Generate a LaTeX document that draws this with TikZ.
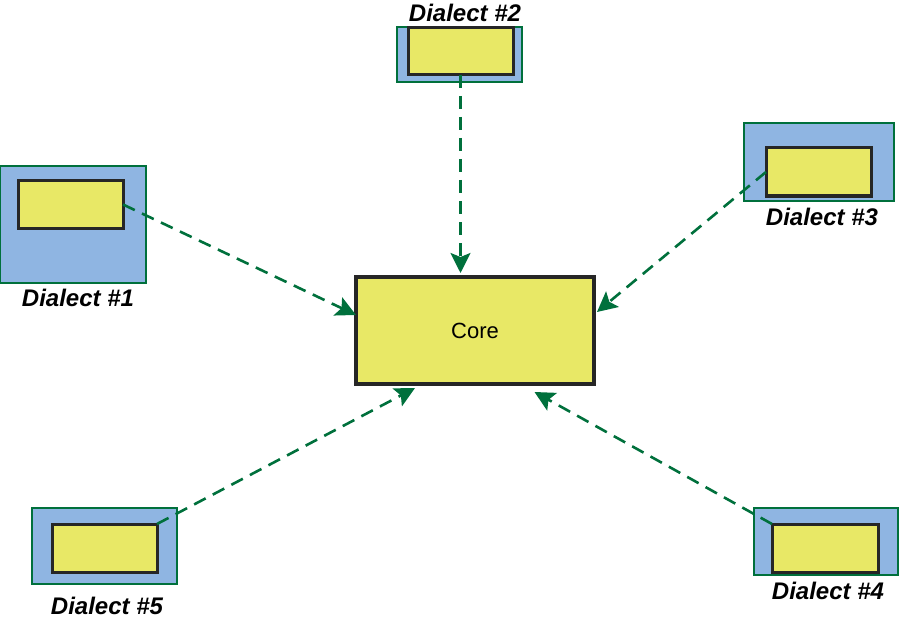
\documentclass[tikz,border=0pt]{standalone}
\usepackage{fontspec}
\setmainfont{Liberation Sans}
\usetikzlibrary{arrows.meta,calc}
\definecolor{dblue}{RGB}{143,181,226}
\definecolor{dyellow}{RGB}{232,232,102}
\definecolor{dgreen}{RGB}{0,112,60}
\begin{document}
\begin{tikzpicture}[x=1pt,y=-1pt,
  bluebox/.style={draw=dgreen,fill=dblue,line width=2.6pt,anchor=north west,inner sep=0pt,outer sep=0pt},
  yelbox/.style={draw=black!85,fill=dyellow,line width=3pt,anchor=north west,inner sep=0pt,outer sep=0pt},
  corebox/.style={draw=black!85,fill=dyellow,line width=3.5pt,anchor=north west,inner sep=0pt,outer sep=0pt,font=\fontsize{22}{26}\selectfont},
  dlabel/.style={font=\fontsize{24}{28}\selectfont\bfseries\itshape,inner sep=0pt},
  conn/.style={draw=dgreen,line width=2.6pt,dash pattern=on 13pt off 8pt,-{Stealth[length=20pt,width=20pt,inset=4pt]}}]
\useasboundingbox (0,0) rectangle (900,623);
% core
\node[corebox,minimum width=238pt,minimum height=107pt] (core) at (356,277) {Core};
% dialect 1
\node[bluebox,minimum width=146pt,minimum height=117pt] (b1) at (0,166) {};
\node[yelbox,minimum width=105pt,minimum height=47pt] (y1) at (18,181) {};
\node[dlabel] (l1) at (78,298) {Dialect \#1};
% dialect 2
\node[bluebox,minimum width=125pt,minimum height=55pt] (b2) at (397,27) {};
\node[yelbox,minimum width=105pt,minimum height=47pt] (y2) at (408,28) {};
\node[dlabel] (l2) at (465,13) {Dialect \#2};
% dialect 3
\node[bluebox,minimum width=150pt,minimum height=78pt] (b3) at (744,123) {};
\node[yelbox,minimum width=105pt,minimum height=48pt] (y3) at (766,148) {};
\node[dlabel] (l3) at (822,217) {Dialect \#3};
% dialect 4
\node[bluebox,minimum width=144pt,minimum height=67pt] (b4) at (754,508) {};
\node[yelbox,minimum width=106pt,minimum height=48pt] (y4) at (772,524) {};
\node[dlabel] (l4) at (828,591) {Dialect \#4};
% dialect 5
\node[bluebox,minimum width=145pt,minimum height=76pt] (b5) at (32,508) {};
\node[yelbox,minimum width=105pt,minimum height=48pt] (y5) at (52,524) {};
\node[dlabel] (l5) at (107,606) {Dialect \#5};
% targets
\coordinate (t1) at ($(core.north west)!0.355!(core.south west)$);
\coordinate (t2) at ($(y2.south |- core.north)+(0,-4)$);
\coordinate (t3) at ($(core.north east)!0.327!(core.south east)+(3,0)$);
\coordinate (t4) at ($(core.south west)!0.75!(core.south east)+(0,8)$);
\coordinate (t5) at ($(core.south west)!0.248!(core.south east)+(0,4)$);
% connectors
\draw[conn] (y1.east) -- (t1);
\draw[conn] (y2.south) -- (t2);
\draw[conn] (y3.west) -- (t3);
\draw[conn] (y4.north west) -- (t4);
\draw[conn] (y5.north east) -- (t5);
\end{tikzpicture}
\end{document}
